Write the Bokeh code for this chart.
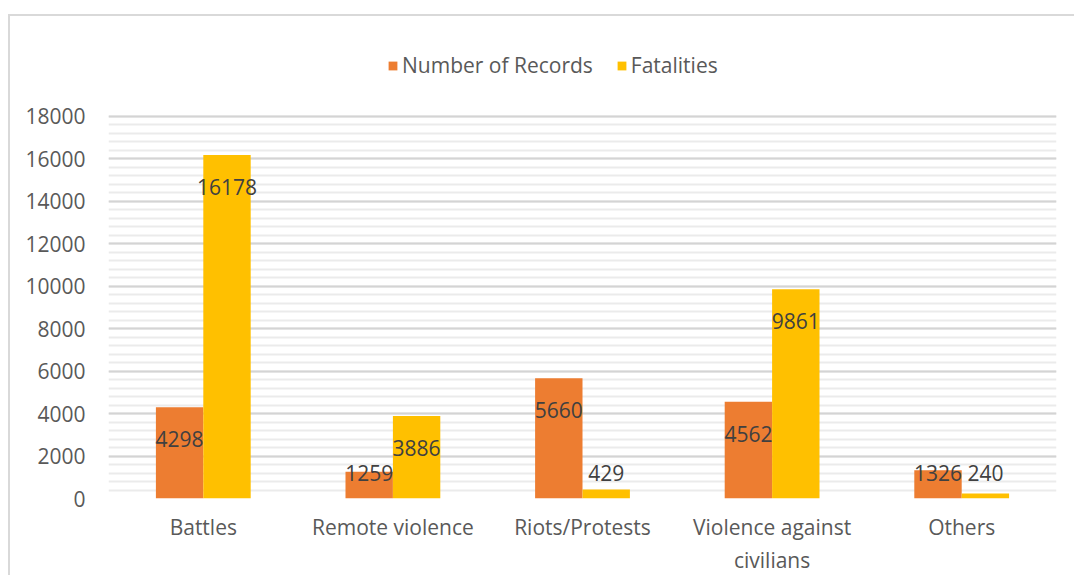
import numpy as np
from bokeh.plotting import figure
from bokeh.models import (ColumnDataSource, Legend, LegendItem, SingleIntervalTicker,
                          FactorRange)
from bokeh.transform import dodge
from bokeh.embed import file_html
from bokeh.resources import INLINE
from bokeh.core.properties import value

# ---- data ----
categories = ["Battles", "Remote violence", "Riots/Protests",
              "Violence against\ncivilians", "Others"]
records = [4298, 1259, 5660, 4562, 1326]
fatalities = [16178, 3886, 429, 9861, 240]
series_names = ["Number of Records", "Fatalities"]
y_axis_max = 18000
y_view_max = 22000   # headroom above the axis for the legend

ORANGE = "#ED7D31"
YELLOW = "#FFC000"
FONT = "Open Sans"
FS = "21px"

# label placement: just inside the bar end, but never lower than a floor
LABEL_DROP = 1500
LABEL_FLOOR = 1220

rec = np.array(records, dtype=float)
fat = np.array(fatalities, dtype=float)
src = ColumnDataSource(dict(
    cat=categories,
    rec=rec, fat=fat,
    rec_txt=[str(v) for v in records],
    fat_txt=[str(v) for v in fatalities],
    rec_y=np.maximum(rec - LABEL_DROP, LABEL_FLOOR),
    fat_y=np.maximum(fat - LABEL_DROP, LABEL_FLOOR),
))

p = figure(x_range=FactorRange(*categories), y_range=(0, y_view_max),
           width=1066, height=561, output_backend="svg", toolbar_location=None,
           min_border_left=98, min_border_right=20, min_border_top=15,
           min_border_bottom=78)
p.styles = {"border-top": "2px solid #d9d9d9", "border-left": "2px solid #d9d9d9",
            "margin-top": "14px", "margin-left": "8px"}
p.outline_line_color = None
p.background_fill_color = "white"
p.border_fill_color = "white"

r1 = p.vbar(x=dodge("cat", -0.125, range=p.x_range), top="rec", width=0.25,
            source=src, fill_color=ORANGE, line_color=None)
r2 = p.vbar(x=dodge("cat", 0.125, range=p.x_range), top="fat", width=0.25,
            source=src, fill_color=YELLOW, line_color=None)

for xo, col, ycol in [(-0.125, "rec_txt", "rec_y"), (0.125, "fat_txt", "fat_y")]:
    p.text(x=dodge("cat", xo, range=p.x_range), y=ycol, text=col, source=src,
           text_align="center", text_baseline="middle", text_color="#404040",
           text_font=value(FONT), text_font_size=FS)

# axes
p.yaxis.ticker = SingleIntervalTicker(interval=2000, num_minor_ticks=5)
p.yaxis.bounds = (0, y_axis_max)
p.yaxis.axis_line_color = None
p.yaxis.major_tick_line_color = None
p.yaxis.minor_tick_line_color = None
p.yaxis.major_label_text_font = FONT
p.yaxis.major_label_text_font_size = FS
p.yaxis.major_label_text_color = "#595959"
p.yaxis.major_label_standoff = 17

p.xaxis.axis_line_color = None
p.xaxis.major_tick_line_color = None
p.xaxis.major_label_text_font = FONT
p.xaxis.major_label_text_font_size = FS
p.xaxis.major_label_text_color = "#595959"
p.xaxis.major_label_standoff = 8

p.xgrid.grid_line_color = None
p.ygrid.bounds = (0, y_axis_max)
p.ygrid.grid_line_color = "#d4d4d4"
p.ygrid.grid_line_width = 2
p.ygrid.minor_grid_line_color = "#ebebeb"
p.ygrid.minor_grid_line_width = 2

legend = Legend(items=[LegendItem(label=series_names[0], renderers=[r1]),
                       LegendItem(label=series_names[1], renderers=[r2])],
                orientation="horizontal", location=(279, 419),
                padding=0, margin=0, spacing=23, label_standoff=4,
                glyph_width=11, glyph_height=11,
                label_text_font=FONT, label_text_font_size=FS,
                label_text_color="#595959", border_line_color=None,
                background_fill_alpha=0)
p.add_layout(legend, "center")

open("out.html", "w").write(file_html(p, INLINE))
